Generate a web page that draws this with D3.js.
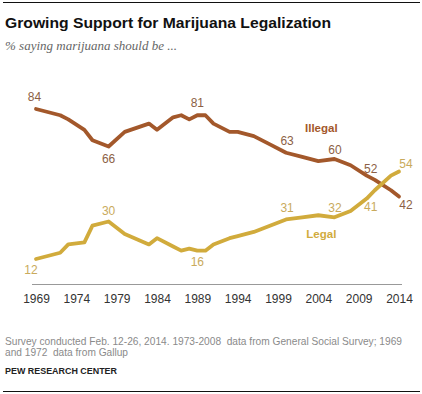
<!DOCTYPE html>
<html><head><meta charset="utf-8">
<script src="https://cdn.jsdelivr.net/npm/d3@7"></script>
<style>
html,body{margin:0;padding:0;background:#fff;}
svg{display:block;}
text{white-space:pre;}
</style></head>
<body>
<svg id="chart" width="422" height="394"></svg>
<script>
// ---- data ----
const years   = [1969,1972,1973,1975,1976,1978,1980,1983,1984,1986,1987,1988,1989,1990,1991,1993,1994,1996,1998,2000,2002,2004,2006,2008,2010,2011,2013,2014];
const legal   = [12,15,19,20,28,30,24,19,22,18,16,17,16,16,19,22,23,25,28,31,32,33,32,35,41,45,52,54];
const illegal = [84,81,79,74,69,66,73,77,74,80,81,79,81,81,77,73,73,71,67,63,61,59,60,57,52,50,45,42];
const labelYears = [1969,1978,1989,2000,2006,2010,2014];
const tickYears  = [1969,1974,1979,1984,1989,1994,1999,2004,2009,2014];
const seriesNames = ["Illegal","Legal"];
const titleText = "Growing Support for Marijuana Legalization";
const subtitleText = "% saying marijuana should be ...";
const noteLines = ["Survey conducted Feb. 12-26, 2014. 1973-2008  data from General Social Survey; 1969",
                   "and 1972  data from Gallup"];
const sourceText = "PEW RESEARCH CENTER";

// ---- layout ----
const svg = d3.select("#chart");
const x = d3.scaleLinear().domain([1969,2014]).range([36,399]);
const y = d3.scaleLinear().domain([0,84]).range([284,109]);
const C = {illegal:"#a3582b", legal:"#d1ab3c", illegalLbl:"#8c5f45", legalLbl:"#c9aa5c"};

function fit(sel, w){ // squeeze text to a target width if needed
  const n = sel.node(); const L = n.getComputedTextLength();
  if (Math.abs(L-w) > 1) sel.attr("textLength", w).attr("lengthAdjust","spacingAndGlyphs");
}

// rules
svg.append("line").attr("x1",3).attr("x2",420).attr("y1",2.5).attr("y2",2.5).attr("stroke","#111").attr("stroke-width",1.2);
svg.append("line").attr("x1",3).attr("x2",420).attr("y1",391.5).attr("y2",391.5).attr("stroke","#111").attr("stroke-width",1.2);

// title
const t = svg.append("text").attr("x",5).attr("y",28).text(titleText)
  .style("font-family","'Liberation Sans',Arial,sans-serif").style("font-weight","bold").style("font-size","15.5px").attr("fill","#111");
fit(t, 326);
const st = svg.append("text").attr("x",5).attr("y",49.5).text(subtitleText)
  .style("font-family","'Liberation Serif','DejaVu Serif',serif").style("font-style","italic").style("font-size","12.5px").attr("fill","#666");
fit(st, 172);

// axis
const axis = d3.axisBottom(x).tickValues(tickYears).tickFormat(d3.format("d")).tickSize(0).tickPadding(10.5);
const ag = svg.append("g").attr("transform","translate(0,284)").call(axis);
ag.select(".domain").remove();
ag.selectAll("text").style("font-family","'Liberation Sans',Arial,sans-serif").style("font-size","12px").attr("fill","#333");
svg.append("line").attr("x1",x(1969)-4).attr("x2",x(2014)+3).attr("y1",y(0)+0.5).attr("y2",y(0)+0.5).attr("stroke","#999").attr("stroke-width",1);

// lines
const line = vals => d3.line().x((d,i)=>x(years[i])).y(d=>y(d))(vals);
svg.append("path").attr("d",line(illegal)).attr("fill","none").attr("stroke",C.illegal).attr("stroke-width",3.8).attr("stroke-linejoin","round").attr("stroke-linecap","round");
svg.append("path").attr("d",line(legal)).attr("fill","none").attr("stroke",C.legal).attr("stroke-width",3.8).attr("stroke-linejoin","round").attr("stroke-linecap","round");

// value labels (offsets = placement only)
const offIll = {1969:[-1.5,-12],1978:[0,12],1989:[0,-13],2000:[1,-12.5],2006:[0.5,-9.5],2010:[4,-7],2014:[7,8]};
const offLeg = {1969:[-5,10.5],1978:[0,-10.5],1989:[0,11],2000:[1,-12],2006:[0.5,-10],2010:[4,8.5],2014:[7,-8]};
function addLabels(vals, off, color){
  labelYears.forEach(yr=>{
    const i = years.indexOf(yr); const o = off[yr];
    svg.append("text").attr("x",x(yr)+o[0]).attr("y",y(vals[i])+o[1]).attr("dy","0.36em")
      .attr("text-anchor","middle").text(vals[i])
      .style("font-family","'Liberation Sans',Arial,sans-serif").style("font-size","12px").attr("fill",color);
  });
}
addLabels(illegal, offIll, C.illegalLbl);
addLabels(legal, offLeg, C.legalLbl);

// series names
svg.append("text").attr("x",x(2004)+3).attr("y",y(75)).attr("dy","0.36em").attr("text-anchor","middle").text(seriesNames[0])
  .style("font-family","'Liberation Sans',Arial,sans-serif").style("font-weight","bold").style("font-size","11.5px").attr("fill",C.illegal);
svg.append("text").attr("x",x(2004)+3).attr("y",y(24)).attr("dy","0.36em").attr("text-anchor","middle").text(seriesNames[1])
  .style("font-family","'Liberation Sans',Arial,sans-serif").style("font-weight","bold").style("font-size","11.5px").attr("fill",C.legal);

// notes
const n1 = svg.append("text").attr("x",5).attr("y",344.5).text(noteLines[0])
  .style("font-family","'Liberation Sans',Arial,sans-serif").style("font-size","10.5px").attr("fill","#8a8a8a");
fit(n1, 397);
const n2 = svg.append("text").attr("x",5).attr("y",355.5).text(noteLines[1])
  .style("font-family","'Liberation Sans',Arial,sans-serif").style("font-size","10.5px").attr("fill","#8a8a8a");
fit(n2, 123);
const src = svg.append("text").attr("x",5).attr("y",374).text(sourceText)
  .style("font-family","'Liberation Sans',Arial,sans-serif").style("font-weight","bold").style("font-size","9.5px").attr("fill","#222");
fit(src, 112);
</script>
</body></html>
